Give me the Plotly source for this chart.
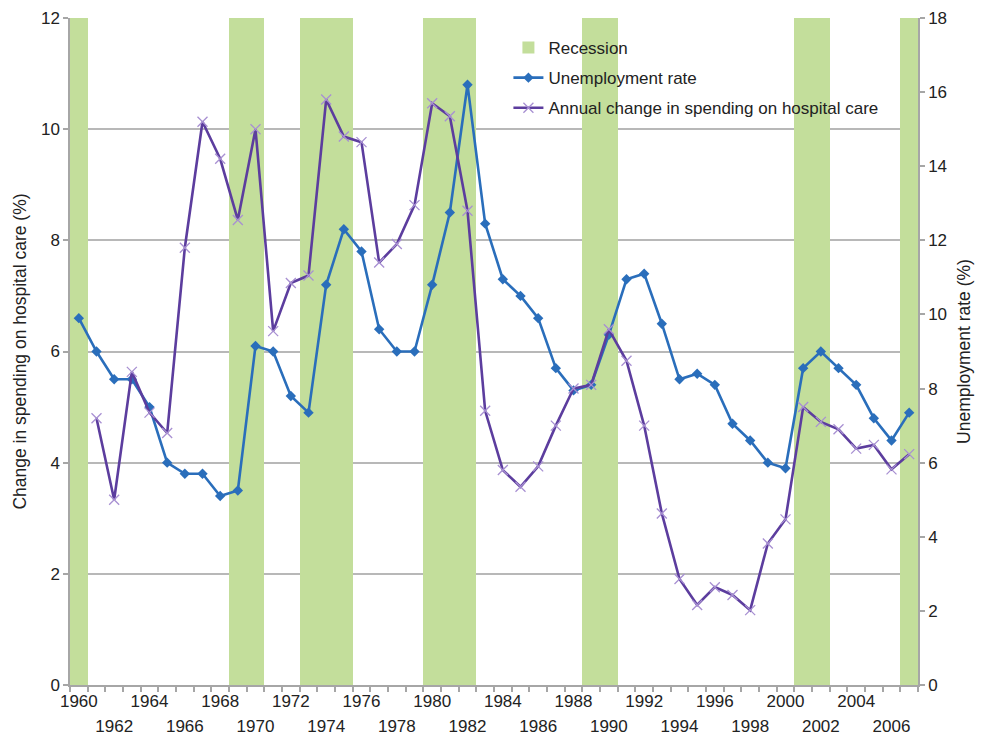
import plotly.graph_objects as go

years = list(range(1960, 2008))

unemployment = [6.6, 6.0, 5.5, 5.5, 5.0, 4.0, 3.8, 3.8, 3.4, 3.5,
                6.1, 6.0, 5.2, 4.9, 7.2, 8.2, 7.8, 6.4, 6.0, 6.0,
                7.2, 8.5, 10.8, 8.3, 7.3, 7.0, 6.6, 5.7, 5.3, 5.4,
                6.3, 7.3, 7.4, 6.5, 5.5, 5.6, 5.4, 4.7, 4.4, 4.0,
                3.9, 5.7, 6.0, 5.7, 5.4, 4.8, 4.4, 4.9]

hospital_change = [None, 7.2, 5.0, 8.45, 7.35, 6.8, 11.8, 15.2, 14.2, 12.55,
                   15.0, 9.55, 10.85, 11.05, 15.8, 14.8, 14.65, 11.4, 11.9, 12.95,
                   15.7, 15.35, 12.8, 7.4, 5.8, 5.35, 5.9, 7.0, 8.0, 8.1,
                   9.6, 8.75, 7.0, 4.63, 2.86, 2.16, 2.64, 2.43, 2.02, 3.82,
                   4.47, 7.5, 7.1, 6.9, 6.38, 6.48, 5.82, 6.23]

recession_years = [1960, 1969, 1970, 1973, 1974, 1975, 1980, 1981, 1982,
                   1989, 1990, 2001, 2002, 2007]

left_max = 12
right_max = 18
row1_ticks = list(range(1960, 2008, 4))
row2_ticks = list(range(1962, 2008, 4))

GREEN = "#c3de9b"
BLUE = "#2a6ebb"
PURPLE = "#5c3d9e"
XMARK = "#a890d2"
AXIS = "#a6a6a6"
GRID = "#b8b8b8"
FONT = "Liberation Sans, Arial, sans-serif"
TXT = "#222222"
TS = 17

fig = go.Figure()

fig.add_trace(go.Bar(
    x=recession_years, y=[left_max] * len(recession_years),
    width=1.0, marker=dict(color=GREEN, line=dict(width=0)),
    name="Recession", legendgroup="a", yaxis="y", xaxis="x"))

fig.add_trace(go.Scatter(
    x=years, y=unemployment, mode="lines+markers",
    line=dict(color=BLUE, width=2.6),
    marker=dict(symbol="diamond", size=8, color=BLUE),
    name="Unemployment rate", legendgroup="b", yaxis="y", xaxis="x"))

fig.add_trace(go.Scatter(
    x=years, y=hospital_change, mode="lines+markers",
    line=dict(color=PURPLE, width=2.6),
    marker=dict(symbol="x-thin", size=10, color=XMARK,
                line=dict(color=XMARK, width=1.3)),
    name="Annual change in spending on hospital care", legendgroup="c",
    yaxis="y2", xaxis="x"))

# invisible trace for the second row of year labels
fig.add_trace(go.Scatter(x=[years[0]], y=[0], xaxis="x2", yaxis="y",
                         mode="markers", marker=dict(opacity=0),
                         showlegend=False, hoverinfo="skip"))

fig.update_layout(
    width=975, height=728,
    margin=dict(l=62, r=65, t=10, b=51),
    paper_bgcolor="white", plot_bgcolor="white",
    font=dict(family=FONT, size=TS, color=TXT),
    bargap=0,
    showlegend=True,
    legend=dict(x=0.517, y=0.982, xanchor="left", yanchor="top",
                bgcolor="rgba(0,0,0,0)", font=dict(size=TS, color=TXT),
                tracegroupgap=5, itemwidth=30),
    xaxis=dict(range=[1959.5, 2007.5], tickvals=row1_ticks,
               ticktext=[str(t) for t in row1_ticks], ticks="",
               showgrid=False, zeroline=False, showline=True,
               linecolor=AXIS, linewidth=1.5, automargin=False,
               tickfont=dict(size=TS, color=TXT),
               minor=dict(tickvals=[y - 0.5 for y in years] + [2007.5],
                          ticks="outside", ticklen=5, tickcolor=AXIS,
                          tickwidth=1.5, showgrid=False)),
    xaxis2=dict(range=[1959.5, 2007.5], overlaying="x", anchor="y",
                side="bottom", tickvals=row2_ticks,
                ticktext=[str(t) for t in row2_ticks], ticks="",
                showgrid=False, zeroline=False, showline=False,
                automargin=False,
                ticklabelstandoff=29, tickfont=dict(size=TS, color=TXT)),
    yaxis=dict(range=[0, left_max], dtick=2, showgrid=True, gridcolor=GRID,
               gridwidth=1.5, zeroline=False, showline=True,
               linecolor=AXIS, linewidth=1.5, ticks="outside", ticklen=5,
               tickcolor=AXIS, tickwidth=1.5, automargin=False,
               tickfont=dict(size=TS, color=TXT),
               title=dict(text="Change in spending on hospital care (%)",
                          font=dict(size=17.5, color=TXT), standoff=10)),
    yaxis2=dict(range=[0, right_max], dtick=2, overlaying="y", side="right",
                showgrid=False, zeroline=False, showline=True,
                linecolor=AXIS, linewidth=1.5, ticks="outside", ticklen=5,
                tickcolor=AXIS, tickwidth=1.5, automargin=False,
                tickfont=dict(size=TS, color=TXT),
                title=dict(text="Unemployment rate (%)",
                           font=dict(size=17.5, color=TXT), standoff=12)),
)

fig.write_html("out.html")
